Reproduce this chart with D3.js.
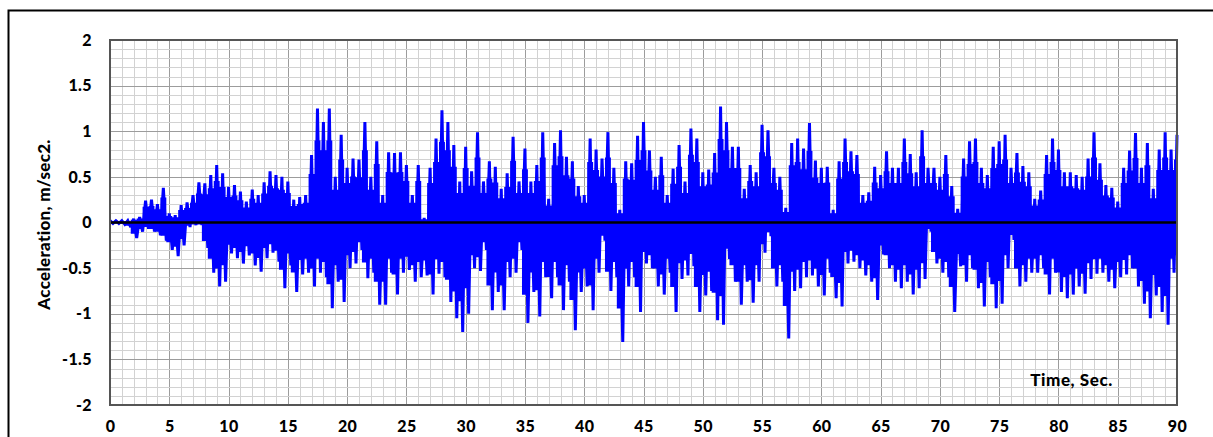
<!DOCTYPE html>
<html><head><meta charset="utf-8">
<script src="https://cdn.jsdelivr.net/npm/d3@7/dist/d3.min.js"></script>
<style>html,body{margin:0;padding:0;background:#fff;}svg{display:block;}</style>
</head><body>
<svg id="c" width="1213" height="437"></svg>
<script>
// sample interval of the envelope readings (seconds)
const dt = 0.5;
// positive peak per 0.5 s from t = 0 to 90 s (m/sec2)
const upperPeaks = [
0.02,0.02,0.02,0.02,0.04,0.06,0.24,0.25,0.20,0.38,
0.10,0.08,0.19,0.22,0.30,0.44,0.43,0.52,0.63,0.54,
0.39,0.41,0.34,0.23,0.36,0.30,0.44,0.56,0.52,0.50,
0.45,0.25,0.28,0.30,0.74,1.25,1.10,1.25,0.50,0.96,
0.60,0.70,0.69,1.10,0.50,0.89,0.30,0.77,0.76,0.77,
0.63,0.30,0.63,0.05,0.60,0.92,1.23,1.10,0.85,0.45,
0.83,0.56,0.99,0.45,0.67,0.61,0.37,0.54,0.94,0.45,
0.81,0.45,0.63,0.99,0.26,0.87,1.01,0.72,0.67,0.40,
0.30,0.92,0.80,0.70,0.99,0.60,0.14,0.67,0.65,0.95,
1.10,0.79,0.50,0.72,0.30,0.59,0.85,0.45,1.03,0.92,
0.55,0.58,0.76,1.27,1.10,0.83,0.83,0.37,0.63,0.55,
1.07,1.01,0.60,0.50,0.16,0.87,0.92,0.81,1.09,0.68,
0.60,0.61,0.14,0.67,0.92,0.78,0.74,0.30,0.33,0.61,
0.52,0.78,0.60,0.60,0.92,0.75,0.55,1.01,0.60,0.60,
0.50,0.74,0.40,0.15,0.70,0.89,0.92,0.60,0.52,0.83,
0.89,0.96,0.60,0.76,0.62,0.55,0.26,0.35,0.74,0.92,
0.80,0.55,0.55,0.52,0.50,0.70,0.99,0.65,0.41,0.38,
0.23,0.60,0.79,0.98,0.60,0.87,0.37,0.80,0.99,0.80,
0.96];
// negative peak per 0.5 s from t = 0 to 90 s (m/sec2)
const lowerPeaks = [
-0.01,-0.01,-0.02,-0.05,-0.17,-0.10,-0.07,-0.10,-0.14,-0.20,
-0.30,-0.37,-0.25,-0.05,-0.03,-0.03,-0.28,-0.55,-0.70,-0.65,
-0.34,-0.39,-0.45,-0.36,-0.47,-0.54,-0.39,-0.33,-0.43,-0.72,
-0.47,-0.76,-0.57,-0.55,-0.70,-0.55,-0.60,-0.94,-0.65,-0.87,
-0.50,-0.45,-0.30,-0.61,-0.55,-0.90,-0.90,-0.55,-0.79,-0.55,
-0.52,-0.65,-0.60,-0.58,-0.79,-0.56,-0.60,-0.87,-1.05,-1.20,
-1.00,-0.50,-0.53,-0.30,-0.96,-0.76,-0.96,-0.60,-0.55,-0.30,
-1.10,-0.76,-1.03,-0.60,-0.83,-0.60,-0.96,-0.65,-1.18,-0.76,
-0.70,-0.96,-0.55,-0.20,-0.75,-0.60,-1.31,-0.70,-0.60,-0.98,
-0.45,-0.50,-0.70,-0.79,-0.55,-0.98,-0.62,-0.58,-0.48,-0.98,
-0.80,-0.75,-1.07,-1.12,-0.40,-0.65,-0.90,-0.65,-0.88,-0.65,
-0.33,-0.15,-0.70,-0.65,-1.27,-0.75,-0.72,-0.60,-0.58,-0.70,
-0.80,-0.55,-0.83,-0.92,-0.45,-0.43,-0.50,-0.58,-0.65,-0.85,
-0.35,-0.50,-0.65,-0.72,-0.65,-0.79,-0.72,-0.62,-0.10,-0.45,
-0.55,-0.60,-0.98,-0.48,-0.65,-0.50,-0.72,-0.92,-0.60,-0.94,
-0.89,-0.50,-0.19,-0.70,-0.65,-0.55,-0.55,-0.50,-0.79,-0.55,
-0.76,-0.83,-0.79,-0.70,-0.78,-0.62,-0.56,-0.55,-0.65,-0.72,
-0.60,-0.57,-0.50,-0.70,-0.89,-1.05,-0.80,-0.98,-1.12,-0.55,
-0.50];
const xTicks = [0,5,10,15,20,25,30,35,40,45,50,55,60,65,70,75,80,85,90];
const yTicks = [-2,-1.5,-1,-0.5,0,0.5,1,1.5,2];
const yTitle = "Acceleration, m/sec2.";
const xTitle = "Time, Sec.";

const svg = d3.select("#c");
const L = 110, R = 1177, T = 40, B = 405;
const x = d3.scaleLinear().domain([0, 90]).range([L, R]);
const y = d3.scaleLinear().domain([-2, 2]).range([B, T]);
const font = "Lato, 'Open Sans', sans-serif";

// outer frame
svg.append("rect").attr("x", 8.5).attr("y", 10.5).attr("width", 1220).attr("height", 440)
  .attr("fill", "none").attr("stroke", "#000").attr("stroke-width", 2);

// grid
const g = svg.append("g");
const minorX = d3.range(0, 91, 1), minorY = d3.range(-20, 21, 1).map(v => v / 10);
g.selectAll(".vx").data(minorX).join("line")
  .attr("x1", d => Math.round(x(d)) + 0.5).attr("x2", d => Math.round(x(d)) + 0.5)
  .attr("y1", T).attr("y2", B)
  .attr("stroke", d => d % 5 === 0 ? "#9c9c9c" : "#d2d2d2").attr("stroke-width", 1);
g.selectAll(".hy").data(minorY).join("line")
  .attr("y1", d => Math.round(y(d)) + 0.5).attr("y2", d => Math.round(y(d)) + 0.5)
  .attr("x1", L).attr("x2", R)
  .attr("stroke", d => Math.abs(Math.round(d * 10)) % 5 === 0 ? "#9c9c9c" : "#d2d2d2").attr("stroke-width", 1);

// signal data
const pts = upperPeaks.map((u, i) => ({ t: i * dt, u: u, l: lowerPeaks[i] }));
const core = d3.area().x(d => x(d.t)).y0(d => y(d.l * 0.72)).y1(d => y(d.u * 0.72)).curve(d3.curveStep);
svg.append("path").datum(pts).attr("d", core).attr("fill", "#0000ff");
const zig = [];
pts.forEach(d => { zig.push([d.t, d.u]); if (d.t < 90) zig.push([d.t + dt / 2, d.l]); });
const line = d3.line().x(d => x(d[0])).y(d => y(d[1]));
svg.append("path").datum(zig).attr("d", line).attr("fill", "none")
  .attr("stroke", "#0000ff").attr("stroke-width", 3).attr("stroke-linejoin", "miter").attr("stroke-miterlimit", 2);

// zero line
svg.append("line").attr("x1", L).attr("x2", R).attr("y1", y(0)).attr("y2", y(0))
  .attr("stroke", "#000").attr("stroke-width", 2.5);

// plot border
svg.append("rect").attr("x", L).attr("y", T).attr("width", R - L).attr("height", B - T)
  .attr("fill", "none").attr("stroke", "#555").attr("stroke-width", 2);

// axes (labels only)
const xAxis = d3.axisBottom(x).tickValues(xTicks).tickSize(0).tickPadding(16).tickFormat(d => String(d));
const xa = svg.append("g").attr("transform", `translate(0,${B})`).call(xAxis);
const yAxis = d3.axisLeft(y).tickValues(yTicks).tickSize(0).tickPadding(18).tickFormat(d => String(d));
const ya = svg.append("g").attr("transform", `translate(${L},0)`).call(yAxis);
[xa, ya].forEach(a => {
  a.select(".domain").remove();
  a.selectAll("text").attr("font-family", font).attr("font-weight", "900").attr("font-size", 16)
    .attr("letter-spacing", 0.4).attr("fill", "#000");
});

svg.append("text").attr("transform", `translate(50,${(T + B) / 2 + 2}) rotate(-90)`)
  .attr("text-anchor", "middle").attr("font-family", font).attr("font-weight", "900")
  .attr("font-size", 17).attr("letter-spacing", 0.3).text(yTitle);
svg.append("text").attr("x", 1113).attr("y", 386).attr("text-anchor", "end")
  .attr("font-family", font).attr("font-weight", "900").attr("font-size", 17)
  .attr("letter-spacing", 0.6).text(xTitle);
</script>
</body></html>
